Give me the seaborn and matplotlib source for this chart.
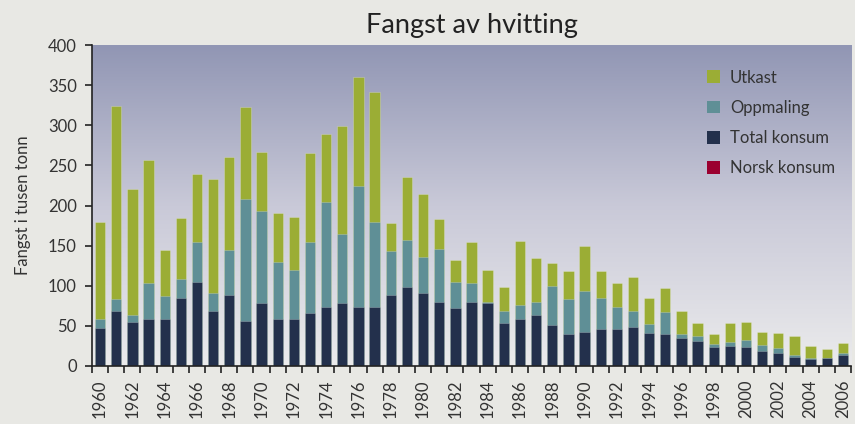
import numpy as np
import pandas as pd
import matplotlib
matplotlib.use("Agg")
import matplotlib.pyplot as plt
from matplotlib.colors import LinearSegmentedColormap
from matplotlib.patches import Patch
import seaborn as sns

years = list(range(1960, 2007))
total_konsum = [47, 68, 55, 58, 59, 85, 105, 68, 88, 56, 79, 58, 59, 66, 74, 78,
                74, 73, 88, 98, 91, 80, 72, 80, 78, 54, 58, 63, 51, 40, 42, 46,
                46, 48, 41, 40, 35, 31, 24, 25, 24, 19, 16, 11, 9, 10, 14]
oppmaling = [11, 15, 9, 45, 28, 23, 50, 23, 57, 152, 114, 71, 61, 89, 130, 86,
             150, 106, 55, 59, 45, 66, 33, 24, 2, 15, 18, 17, 49, 43, 51, 39,
             27, 20, 11, 27, 5, 6, 3, 5, 8, 7, 7, 2.5, 1, 0.5, 2.5]
utkast = [122, 241, 156, 154, 58, 77, 84, 142, 115, 115, 74, 62, 66, 110, 85, 135,
          136, 163, 35, 78, 78, 37, 27, 50, 40, 29, 80, 54, 28, 36, 56, 34,
          31, 43, 33, 30, 28, 17, 12.5, 24, 23, 16.5, 17.5, 24, 15, 11, 12]
norsk_konsum = [0] * len(years)

series_names = ["Utkast", "Oppmaling", "Total konsum", "Norsk konsum"]
colors = {"Utkast": "#9bad35", "Oppmaling": "#5f8f96",
          "Total konsum": "#23304c", "Norsk konsum": "#9b0030"}

df = pd.DataFrame({"year": [str(y) for y in years],
                   "Norsk konsum": norsk_konsum,
                   "Total konsum": total_konsum,
                   "Oppmaling": oppmaling,
                   "Utkast": utkast})
df["c_norsk"] = df["Norsk konsum"]
df["c_total"] = df["Total konsum"]
df["c_opp"] = df["c_total"] + df["Oppmaling"]
df["c_utk"] = df["c_opp"] + df["Utkast"]

plt.rcParams["font.family"] = ["Lato", "DejaVu Sans"]

fig = plt.figure(figsize=(8.55, 4.24), dpi=100)
fig.patch.set_facecolor("#e8e8e4")
ax = fig.add_axes([92 / 855, 1 - 366 / 424, (851 - 92) / 855, (366 - 45) / 424])

# gradient background (top slate blue -> bottom light gray)
cmap = LinearSegmentedColormap.from_list("bg", ["#9196b4", "#c9c9d8", "#ebebec"])
grad = np.linspace(0, 1, 256).reshape(-1, 1)
ax.imshow(grad, cmap=cmap, aspect="auto", extent=(-0.5, 46.5, 0, 400),
          origin="upper", zorder=0, interpolation="bicubic")

width = 0.64
for col, name in [("c_utk", "Utkast"), ("c_opp", "Oppmaling"),
                  ("c_total", "Total konsum"), ("c_norsk", "Norsk konsum")]:
    sns.barplot(data=df, x="year", y=col, color=colors[name], width=width,
                ax=ax, zorder=2, edgecolor=(1, 1, 1, 0.25), linewidth=0.6,
                saturation=1)

ax.set_xlim(-0.5, 46.5)
ax.set_ylim(0, 400)
ax.set_facecolor("none")

for s in ["top", "right"]:
    ax.spines[s].set_visible(False)
for s in ["left", "bottom"]:
    ax.spines[s].set_color("#222222")
    ax.spines[s].set_linewidth(1.2)
    ax.spines[s].set_zorder(5)

ax.set_yticks(range(0, 401, 50))
ax.tick_params(axis="y", length=5, width=1.2, color="#222222",
               labelsize=12, labelcolor="#333333", pad=6)

# x ticks at bar boundaries, labels at even years
ax.set_xticks(np.arange(-0.5, 47, 1))
ax.set_xticklabels([])
ax.tick_params(axis="x", which="major", length=5, width=1.2, color="#222222")
label_pos = [i for i, y in enumerate(years) if y % 2 == 0]
ax.set_xticks(label_pos, minor=True)
ax.set_xticklabels([str(years[i]) for i in label_pos], minor=True,
                   rotation=90, fontsize=12, color="#333333")
ax.tick_params(axis="x", which="minor", length=0, pad=10)

ax.set_xlabel("")
ax.set_ylabel("Fangst i tusen tonn", fontsize=12, color="#333333", labelpad=12)
ax.set_title("Fangst av hvitting", fontsize=19.5, color="#222222", pad=9)

handles = [Patch(facecolor=colors[n], edgecolor="none") for n in series_names]
ax.legend(handles, series_names, loc="upper left",
          bbox_to_anchor=(0.79, 0.97), frameon=False, fontsize=12,
          handlelength=0.8, handleheight=0.8, handletextpad=0.6,
          labelspacing=0.85, labelcolor="#333333")

fig.savefig("out.png", dpi=100, facecolor=fig.get_facecolor())
